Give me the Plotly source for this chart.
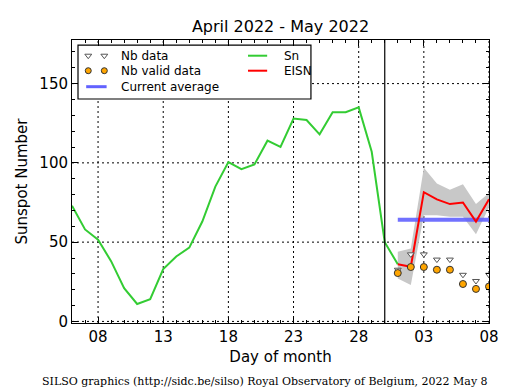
import plotly.graph_objects as go
import pandas as pd

# ---- data ----
sn_dates = pd.date_range("2022-04-06", "2022-05-01", freq="D")
sn_values = [73, 58, 51.5, 38, 21, 11, 14, 33, 41, 46.5, 63, 85, 100.5, 96, 99,
             114, 110, 128, 127, 118, 132, 132, 135, 107, 50, 36]

eisn_dates = pd.date_range("2022-05-01", "2022-05-08", freq="D")
eisn_values = [36, 34.5, 81.5, 77, 74, 75, 63, 77]
eisn_upper = [44, 46, 97, 87, 83, 86.5, 74, 81]
eisn_lower = [27, 23, 67, 67, 66, 66, 55, 72]
nb_data = [32.6, 42.3, 42.3, 39, 39, 29.4, 25.5, 29.4]
nb_valid = [30.5, 34.3, 34.3, 32.6, 32.6, 23.6, 20.5, 22]
current_avg = 64.2
avg_dates = ["2022-05-01", "2022-05-08"]
split_date = "2022-04-30"

x_range = ["2022-04-06", "2022-05-08"]
x_ticks = ["2022-04-08", "2022-04-13", "2022-04-18", "2022-04-23", "2022-04-28",
           "2022-05-03", "2022-05-08"]
x_ticklabels = ["08", "13", "18", "23", "28", "03", "08"]
y_range = [-1, 177.5]
y_ticks = [0, 50, 100, 150]

GREEN = "#33cc33"
BLUE = "#6262ff"
ORANGE = "#ffa500"
FONT = "DejaVu Sans"

fig = go.Figure()

# uncertainty band
fig.add_trace(go.Scatter(
    x=list(eisn_dates) + list(eisn_dates[::-1]),
    y=eisn_upper + eisn_lower[::-1],
    fill="toself", fillcolor="rgba(200,200,200,1)",
    line=dict(width=0), mode="lines", hoverinfo="skip", showlegend=False))

fig.add_trace(go.Scatter(x=sn_dates, y=sn_values, mode="lines",
                         line=dict(color=GREEN, width=2), showlegend=False))
fig.add_trace(go.Scatter(x=avg_dates, y=[current_avg, current_avg], mode="lines",
                         line=dict(color=BLUE, width=4), opacity=0.9, showlegend=False))
fig.add_trace(go.Scatter(x=eisn_dates, y=eisn_values, mode="lines",
                         line=dict(color="red", width=2), showlegend=False))
fig.add_trace(go.Scatter(x=eisn_dates, y=nb_data, mode="markers",
                         marker=dict(symbol="triangle-down", size=6, color="white",
                                     line=dict(color="#555555", width=1)),
                         showlegend=False))
fig.add_trace(go.Scatter(x=eisn_dates, y=nb_valid, mode="markers",
                         marker=dict(symbol="circle", size=7, color=ORANGE,
                                     line=dict(color="#333333", width=1)),
                         showlegend=False))

# ---- custom legend (overlay axes spanning the plot area) ----
lx = [0.039, 0.0775]
row_y = [0.9445, 0.8915, 0.835]
fig.add_trace(go.Scatter(x=lx, y=[row_y[0]] * 2, xaxis="x2", yaxis="y2", mode="markers",
                         marker=dict(symbol="triangle-down", size=6, color="white",
                                     line=dict(color="#555555", width=1)),
                         showlegend=False, hoverinfo="skip"))
fig.add_trace(go.Scatter(x=lx, y=[row_y[1]] * 2, xaxis="x2", yaxis="y2", mode="markers",
                         marker=dict(symbol="circle", size=6, color=ORANGE,
                                     line=dict(color="#333333", width=1)),
                         showlegend=False, hoverinfo="skip"))

grid_line = dict(color="black", width=1, dash="2px,3px")
shapes = []
# dotted grid drawn as shapes below traces so the legend box can hide it
for xt in x_ticks:
    shapes.append(dict(type="line", xref="x", yref="paper", x0=xt, x1=xt, y0=0, y1=1,
                       line=grid_line, layer="below"))
for yt in y_ticks:
    shapes.append(dict(type="line", xref="paper", yref="y", x0=0, x1=1, y0=yt, y1=yt,
                       line=grid_line, layer="below"))
shapes += [
    dict(type="rect", xref="paper", yref="paper", x0=0.0144, x1=0.573, y0=0.7915, y1=0.982,
         line=dict(color="black", width=1.2), fillcolor="white", layer="below"),
    dict(type="line", xref="paper", yref="paper", x0=0.034, x1=0.083, y0=row_y[2], y1=row_y[2],
         line=dict(color=BLUE, width=3)),
    dict(type="line", xref="paper", yref="paper", x0=0.422, x1=0.468, y0=row_y[0], y1=row_y[0],
         line=dict(color=GREEN, width=2)),
    dict(type="line", xref="paper", yref="paper", x0=0.422, x1=0.468, y0=row_y[1], y1=row_y[1],
         line=dict(color="red", width=2)),
    dict(type="line", xref="x", yref="paper", x0=split_date, x1=split_date, y0=0, y1=1,
         line=dict(color="black", width=1.2)),
]

annotations = []
for txt, xx, yy in [("Nb data", 0.1134, row_y[0]), ("Nb valid data", 0.1134, row_y[1]),
                    ("Current average", 0.1134, row_y[2]), ("Sn", 0.504, row_y[0]),
                    ("EISN", 0.504, row_y[1])]:
    annotations.append(dict(text=txt, x=xx, y=yy, xref="paper", yref="paper",
                            xanchor="left", yanchor="middle", showarrow=False,
                            font=dict(family=FONT, size=12, color="black")))
annotations.append(dict(text="SILSO graphics (http://sidc.be/silso) Royal Observatory of Belgium, 2022 May 8",
                        x=0.463, y=-0.205, xref="paper", yref="paper", xanchor="center",
                        yanchor="middle", showarrow=False,
                        font=dict(family="DejaVu Serif", size=11, color="black")))

axis_common = dict(showline=True, linecolor="black", linewidth=1, mirror="allticks",
                   ticks="inside", ticklen=6, tickcolor="black", tickwidth=1,
                   showgrid=False, zeroline=False,
                   tickfont=dict(family=FONT, size=15, color="black"))

fig.update_layout(
    width=515, height=390,
    margin=dict(l=72, r=26, t=40, b=67),
    paper_bgcolor="white", plot_bgcolor="white",
    title=dict(text="April 2022 - May 2022", x=0.5447, xanchor="center",
               y=0.933, yanchor="middle", font=dict(family=FONT, size=16, color="black")),
    xaxis=dict(type="date", range=x_range, tickvals=x_ticks, ticktext=x_ticklabels,
               minor=dict(dtick=86400000, tick0="2022-04-06", ticks="inside", ticklen=3,
                          tickcolor="black", showgrid=False),
               title=dict(text="Day of month", font=dict(family=FONT, size=15, color="black"),
                          standoff=6),
               **axis_common),
    yaxis=dict(range=y_range, tickvals=y_ticks,
               minor=dict(dtick=10, ticks="inside", ticklen=3, tickcolor="black",
                          showgrid=False),
               title=dict(text="Sunspot Number", font=dict(family=FONT, size=15, color="black"),
                          standoff=8),
               **axis_common),
    xaxis2=dict(overlaying="x", range=[0, 1], visible=False, fixedrange=True),
    yaxis2=dict(overlaying="y", range=[0, 1], visible=False, fixedrange=True),
    shapes=shapes, annotations=annotations, showlegend=False,
)

fig.write_html("out.html", config={"displayModeBar": False},
               post_script="document.body.style.margin='0';")
